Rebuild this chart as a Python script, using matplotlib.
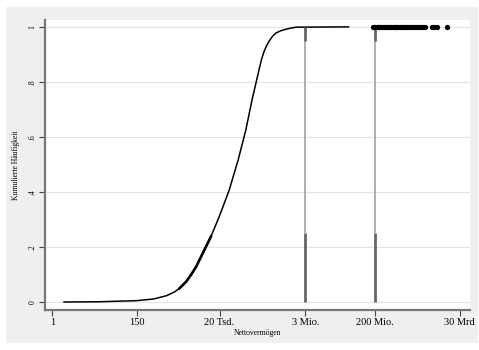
import numpy as np
import matplotlib
matplotlib.use('Agg')
import matplotlib.pyplot as plt

plt.rcParams['font.family'] = ['Liberation Serif', 'DejaVu Serif']

wealth = [2, 17, 150, 400, 870, 1400, 1870, 2770, 3700, 4990, 8130, 12000,
          19600, 35400, 60100, 94600, 137000, 207000, 240000, 278000, 320000,
          372000, 450000, 552000, 750000, 995000, 1.4e6, 1.94e6, 4.13e7]
cum_freq = [0.0, 0.001, 0.005, 0.011, 0.023, 0.037, 0.05, 0.074, 0.099, 0.128,
            0.189, 0.238, 0.31, 0.407, 0.516, 0.625, 0.735, 0.844, 0.882, 0.91,
            0.93, 0.947, 0.964, 0.977, 0.986, 0.991, 0.996, 0.999, 1.0]

# spikes (top-coded values)
spike_x = [3.2e6, 2e8]
spike_low = 0.25
spike_high = 0.95

# outliers plotted at 1
outliers = [1.8e8, 2.0e8, 2.2e8, 2.45e8, 2.7e8, 3.0e8, 3.3e8, 3.7e8, 4.1e8,
            4.6e8, 5.1e8, 5.7e8, 6.3e8, 7.0e8, 7.8e8, 8.7e8, 9.7e8, 1.08e9,
            1.2e9, 1.35e9, 1.5e9, 1.7e9, 1.9e9, 2.1e9, 2.4e9, 2.7e9, 3.0e9,
            3.4e9, 3.8e9, 5.8e9, 6.4e9, 7.6e9, 1.4e10]

xticks = [1, 150, 2e4, 3.2e6, 2e8, 3e10]
xticklabels = ['1', '150', '20 Tsd.', '3 Mio.', '200 Mio.', '30 Mrd']
yticks = [0, 0.2, 0.4, 0.6, 0.8, 1]
yticklabels = ['0', '.2', '.4', '.6', '.8', '1']

fig = plt.figure(figsize=(4.79, 3.5), dpi=100)
fig.patch.set_facecolor('white')

bg = fig.add_axes([6/479, 1-343/350, 472/479, 336/350], zorder=0)
bg.set_facecolor('#efefef')
bg.set_xticks([])
bg.set_yticks([])
for s in bg.spines.values():
    s.set_visible(False)

ax = fig.add_axes([45/479, 1-310/350, 425/479, 290/350], zorder=1)
ax.set_facecolor('white')
ax.set_xscale('log')
ax.set_xlim(0.65, 5.5e10)
ax.set_ylim(-0.029, 1.025)

for y in yticks:
    ax.axhline(y, color='#e4e4e4', lw=0.9, zorder=1)

ax.plot(wealth, cum_freq, color='black', lw=1.1, zorder=3)
ax.plot(wealth[6:12], cum_freq[6:12], color='black', lw=1.9, zorder=3)

for x in spike_x:
    ax.plot([x, x], [0, spike_low], color='#666666', lw=2.0, zorder=4,
            solid_capstyle='butt')
    ax.plot([x, x], [spike_low, spike_high], color='#9a9a9a', lw=1.1, zorder=4,
            solid_capstyle='butt')
    ax.plot([x, x], [spike_high, 1], color='#666666', lw=2.0, zorder=4,
            solid_capstyle='butt')

ax.plot(outliers, np.ones(len(outliers)), 'o', color='black', ms=3.8,
        mec='none', zorder=5)

for s in ['top', 'right']:
    ax.spines[s].set_visible(False)
for s in ['left', 'bottom']:
    ax.spines[s].set_color('#777777')
    ax.spines[s].set_linewidth(1.6)

ax.set_xticks(xticks)
ax.set_xticklabels(xticklabels, fontsize=7.5)
ax.xaxis.set_minor_locator(matplotlib.ticker.NullLocator())
ax.set_yticks(yticks)
ax.set_yticklabels(yticklabels, fontsize=5.5, rotation=90, va='center')
ax.tick_params(axis='both', direction='out', length=4, width=0.8,
               color='#444444', pad=2)

ax.set_xlabel('Nettovermögen', fontsize=5.5, labelpad=1)
ax.set_ylabel('Kumulierte Häufigkeit', fontsize=5.5, labelpad=6)

fig.savefig('out.png', dpi=100)
